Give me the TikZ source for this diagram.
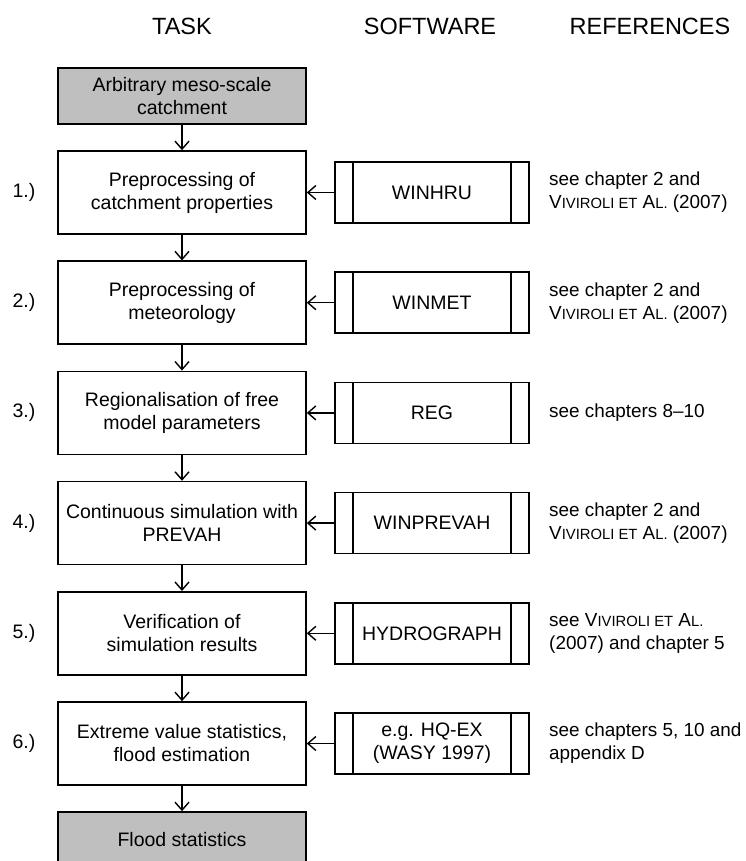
\documentclass[tikz,border=0pt]{standalone}
\usepackage{fontspec}
\setmainfont{Liberation Sans}
\usetikzlibrary{arrows.meta}
\newcommand{\smc}[1]{{\fontsize{14.8pt}{23pt}\selectfont #1}}

\begin{document}
\begin{tikzpicture}[
        x=1pt, y=-1pt,
        font=\fontsize{19.5pt}{23pt}\selectfont,
        task/.style={
            draw,
            line width=1.6pt,
            minimum width=248pt,
            minimum height=83pt,
            align=center,
            inner sep=0pt
        },
        endbox/.style={
            task,
            fill=black!25,
            minimum height=56pt
        },
        tool/.style={
            draw,
            line width=1.6pt,
            minimum width=194pt,
            minimum height=61pt,
            align=center,
            inner sep=0pt,
            path picture={
                \draw[line width=1.6pt]
                    ([xshift=18pt]path picture bounding box.north west) --
                    ([xshift=18pt]path picture bounding box.south west)
                    ([xshift=-18pt]path picture bounding box.north east) --
                    ([xshift=-18pt]path picture bounding box.south east);
            }
        },
        ref/.style={
            font=\fontsize{18.9pt}{23pt}\selectfont,
            align=left,
            anchor=west,
            inner sep=0pt
        },
        arr/.style={
            -{Straight Barb[length=8pt,width=14pt]},
            line width=1.4pt
        }
    ]
    \clip (0,0) rectangle (745,861);
    \useasboundingbox (0,0) rectangle (745,861);
    % Spaltenkoepfe
    \node[font=\fontsize{23.5pt}{28pt}\selectfont] (hTask) at (182,26) {TASK};
    \node[font=\fontsize{23.5pt}{28pt}\selectfont] (hSoft) at (430,26) {SOFTWARE};
    \node[font=\fontsize{23.5pt}{28pt}\selectfont] (hRef) at (650,26) {REFERENCES};
    % Aufgaben
    \node[endbox] (t0) at (182,96) {Arbitrary meso-scale\\catchment};
    \node[task] (t1) at (182,192.5) {Preprocessing of\\catchment properties};
    \node[task] (t2) at (182,302.7) {Preprocessing of\\meteorology};
    \node[task] (t3) at (182,412.9) {Regionalisation of free\\model parameters};
    \node[task] (t4) at (182,523.1) {Continuous simulation with\\PREVAH};
    \node[task] (t5) at (182,633.3) {Verification of\\simulation results};
    \node[task] (t6) at (182,743.5) {Extreme value statistics,\\flood estimation};
    \node[endbox] (t7) at (182,840) {Flood statistics};
    % Nummern
    \node (n1) at (24,192.5) {1.)};
    \node (n2) at (24,302.7) {2.)};
    \node (n3) at (24,412.9) {3.)};
    \node (n4) at (24,523.1) {4.)};
    \node (n5) at (24,633.3) {5.)};
    \node (n6) at (24,743.5) {6.)};
    % Software
    \node[tool] (s1) at (432,192.5) {WINHRU};
    \node[tool] (s2) at (432,302.7) {WINMET};
    \node[tool] (s3) at (432,412.9) {REG};
    \node[tool] (s4) at (432,523.1) {WINPREVAH};
    \node[tool] (s5) at (432,633.3) {HYDROGRAPH};
    \node[tool] (s6) at (432,743.5) {e.g. HQ-EX\\(WASY 1997)};
    % Literatur
    \node[ref] (r1) at (549,192.5) {see chapter 2 and\\V\smc{IVIROLI ET} A\smc{L.} (2007)};
    \node[ref] (r2) at (549,302.7) {see chapter 2 and\\V\smc{IVIROLI ET} A\smc{L.} (2007)};
    \node[ref] (r3) at (549,412.9) {see chapters 8--10};
    \node[ref] (r4) at (549,523.1) {see chapter 2 and\\V\smc{IVIROLI ET} A\smc{L.} (2007)};
    \node[ref] (r5) at (549,633.3) {see V\smc{IVIROLI ET} A\smc{L.}\\(2007) and chapter 5};
    \node[ref] (r6) at (549,743.5) {see chapters 5, 10 and\\appendix D};
    % Pfeile
    \draw[arr] (t0) -- (t1);
    \draw[arr] (t1) -- (t2);
    \draw[arr] (t2) -- (t3);
    \draw[arr] (t3) -- (t4);
    \draw[arr] (t4) -- (t5);
    \draw[arr] (t5) -- (t6);
    \draw[arr] (t6) -- (t7);
    \draw[arr] (s1) -- (t1);
    \draw[arr] (s2) -- (t2);
    \draw[arr] (s3) -- (t3);
    \draw[arr] (s4) -- (t4);
    \draw[arr] (s5) -- (t5);
    \draw[arr] (s6) -- (t6);
\end{tikzpicture}
\end{document}
